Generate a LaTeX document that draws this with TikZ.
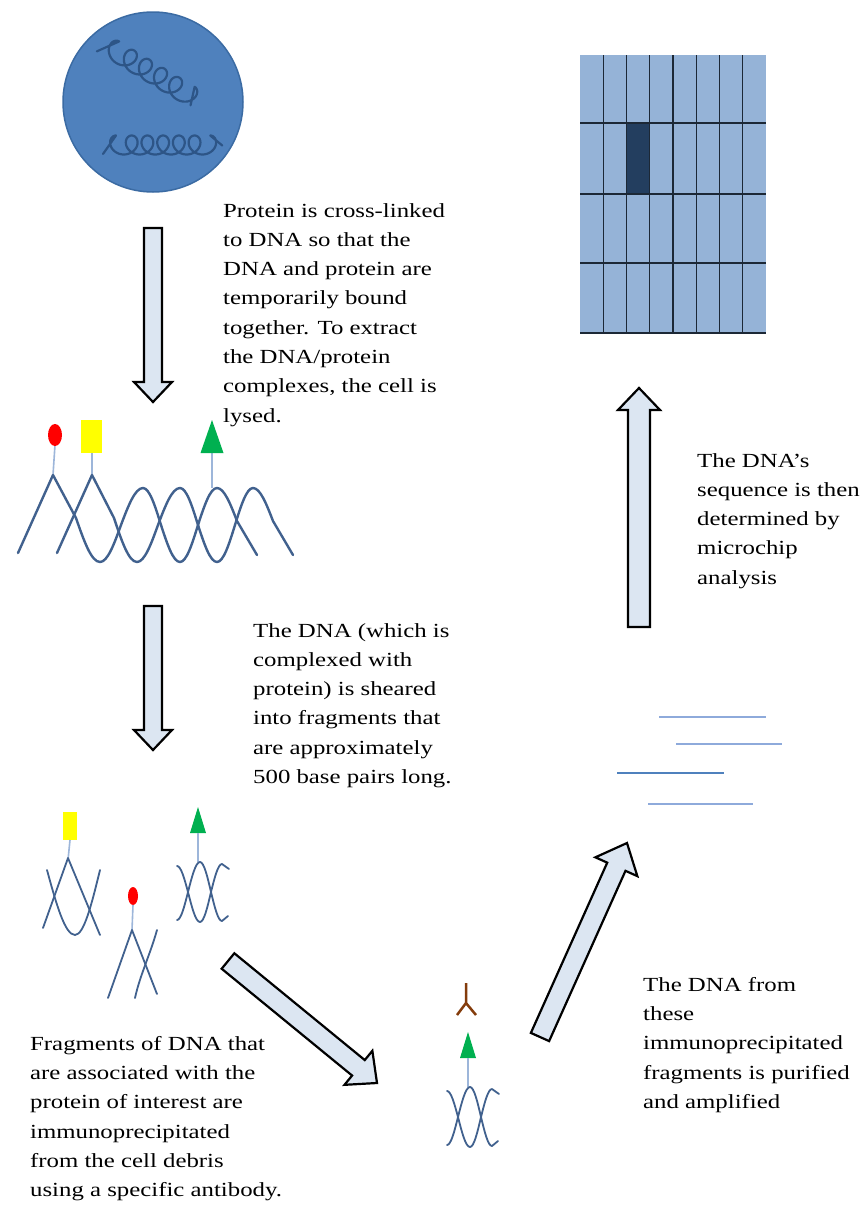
\documentclass[tikz,border=0pt]{standalone}
\usepackage{fontspec}
\setmainfont{Liberation Serif}[FakeStretch=1.24]
\usetikzlibrary{calc,shapes.geometric}
\definecolor{cellblue}{HTML}{4F81BD}
\definecolor{cellrim}{HTML}{3B6BA3}
\definecolor{coilblue}{HTML}{2D5587}
\definecolor{strandblue}{HTML}{41618E}
\definecolor{stickblue}{HTML}{9DB6DA}
\definecolor{arrowfill}{HTML}{DCE6F2}
\definecolor{chipblue}{HTML}{95B3D7}
\definecolor{chipdark}{HTML}{233E5F}
\definecolor{chipline}{HTML}{1C2836}
\definecolor{abbrown}{HTML}{843C0C}
\definecolor{tagred}{HTML}{FF0000}
\definecolor{tagyellow}{HTML}{FFFF00}
\definecolor{taggreen}{HTML}{00B050}
\definecolor{ampline}{HTML}{8EAADB}
\definecolor{ampdark}{HTML}{4F81BD}
\tikzset{
    strand/.style={strandblue, line width=2.4pt, line cap=round, line join=round}, % DNA strands
    stick/.style={stickblue, line width=1.6pt},
    coil/.style={coilblue, line width=2.2pt, line cap=round, line join=round},
    blockarrow/.style={fill=arrowfill, draw=black, line width=2.2pt, line join=miter},
    chipgrid/.style={chipline, line width=1.4pt},
    ampli/.style={ampline, line width=1.5pt},
    steptext/.style={anchor=north west, inner sep=0pt, align=left, font=\fontsize{20}{29.3}\selectfont}
}
% block arrow: #1 tail, #2 tip, #3 half shaft, #4 half head, #5 head length
\newcommand{\blockarrow}[5]{%
    \coordinate (#1-#2) at ($(#2)!#5!(#1)$);
    \draw[blockarrow] ($(#1)!#3!90:(#2)$) -- ($(#1-#2)!#3!90:(#2)$) -- ($(#1-#2)!#4!90:(#2)$) -- (#2)
        -- ($(#1-#2)!#4!-90:(#2)$) -- ($(#1-#2)!#3!-90:(#2)$) -- ($(#1)!#3!-90:(#2)$) -- cycle;}

\begin{document}
\begin{tikzpicture}[x=1pt, y=-1pt]
    \useasboundingbox[fill=white] (0,0) rectangle (864,1205);

    % cell with chromatin
    \node[circle, fill=cellblue, draw=cellrim, line width=1.5pt, minimum size=180pt, inner sep=0pt] (cell) at (153,102) {};
    \begin{scope}[shift={(114,50)}, rotate=-31]
        \draw[coil] (-14,10) -- plot[domain=0:31.4, samples=240, smooth] ({2.8*\x-10*sin(\x r)}, {-10*cos(\x r)}) -- ++(6,18);
    \end{scope}
    \begin{scope}[shift={(116,145)}]
        \draw[coil] (-13,9) -- plot[domain=0:37.7, samples=260, smooth] ({2.5*\x-9.5*sin(\x r)}, {-9.5*cos(\x r)}) -- ++(12,10);
    \end{scope}

    % cross-linked DNA with proteins
    \draw[stick] (55,445) -- (53,475);
    \draw[stick] (92,453) -- (92,475);
    \draw[stick] (212,453) -- (212,488);
    \node[ellipse, fill=tagred, minimum width=14pt, minimum height=22pt, inner sep=0pt] (pred) at (55,435) {};
    \fill[tagyellow] (81,420) rectangle (102,453);
    \fill[taggreen] (212,420) -- (223.5,453) -- (200.5,453) -- cycle;
    \draw[strand] (18,553) -- (53,475) -- (76,518) sin (100,562) cos (121,525) sin (143,488) cos (161,525) sin (180,562) cos (198,525) sin (217,488) cos (237,521) -- (257,555);
    \draw[strand] (57,553) -- (92,475) -- (114,518) sin (137,562) cos (158,525) sin (180,488) cos (198,525) sin (217,562) cos (235,525) sin (253,488) cos (273,521) -- (293,555);

    % sheared fragments
    \fill[tagyellow] (63,812) rectangle (77,840);
    \draw[stick] (70,840) -- (68,860);
    \draw[strand, line width=1.8pt] (43,928) -- (68,858) -- (100,935);
    \draw[strand, line width=1.8pt] (47,870) sin (75,935) cos (100,870);
    \node[ellipse, fill=tagred, minimum width=10pt, minimum height=18pt, inner sep=0pt] (fred) at (133,896) {};
    \draw[stick] (133,905) -- (132,930);
    \draw[strand, line width=1.8pt] (108,998) -- (132,930) -- (157,994);
    \draw[strand, line width=1.8pt] (157,930) .. controls (150,955) and (140,975) .. (135,998);
    \foreach \dx/\dy in {0/0,270/225} {
        \begin{scope}[shift={(\dx,\dy)}]
            \fill[taggreen] (198,807) -- (206,833) -- (190,833) -- cycle;
            \draw[stick] (198,833) -- (198,862);
            \draw[strand, line width=1.8pt] (177,866) cos (188,892) sin (200,922) cos (211,892) sin (222,864) -- (229,869);
            \draw[strand, line width=1.8pt] (177,920) cos (188,892) sin (200,862) cos (211,892) sin (222,921) -- (228,916);
        \end{scope}
    }

    % antibody
    \draw[abbrown, line width=2.5pt] (466,983) -- (466,1003) -- (457,1015) (466,1003) -- (476,1015);

    % amplified fragments
    \draw[ampli] (659,717) -- (766,717);
    \draw[ampli] (676,744) -- (782,744);
    \draw[ampdark, line width=2pt] (617,773) -- (724,773);
    \draw[ampli] (648,804) -- (753,804);

    % microchip
    \fill[chipblue] (580,55) rectangle (766,333);
    \fill[chipdark] (626.5,123) rectangle (649.75,194);
    \foreach \i in {1,...,7} {\draw[chipgrid] ({580+23.25*\i},55) -- ({580+23.25*\i},333);}
    \foreach \y in {123,194,263,333} {\draw[chipgrid] (580,\y) -- (766,\y);}

    % block arrows between steps
    \coordinate (a1s) at (153,228); \coordinate (a1e) at (153,402);
    \coordinate (a2s) at (153,606); \coordinate (a2e) at (153,750);
    \coordinate (a3s) at (228,961); \coordinate (a3e) at (377,1083);
    \coordinate (a4s) at (540,1037); \coordinate (a4e) at (627,843);
    \coordinate (a5s) at (639,627); \coordinate (a5e) at (639,388);
    \blockarrow{a1s}{a1e}{9pt}{19pt}{20pt}
    \blockarrow{a2s}{a2e}{9pt}{19pt}{20pt}
    \blockarrow{a3s}{a3e}{10pt}{22pt}{24pt}
    \blockarrow{a4s}{a4e}{10pt}{23pt}{26pt}
    \blockarrow{a5s}{a5e}{11pt}{21pt}{22pt}

    % step descriptions
    \node[steptext] (t1) at (223,203) {Protein is cross-linked\\to DNA so that the\\DNA and protein are\\temporarily bound\\together. To extract\\the DNA/protein\\complexes, the cell is\\lysed.};
    \node[steptext] (t2) at (253,623) {The DNA (which is\\complexed with\\protein) is sheared\\into fragments that\\are approximately\\500 base pairs long.};
    \node[steptext] (t3) at (697,453) {The DNA’s\\sequence is then\\determined by\\microchip\\analysis};
    \node[steptext] (t4) at (643,977) {The DNA from\\these\\immunoprecipitated\\fragments is purified\\and amplified};
    \node[steptext] (t5) at (30,1036) {Fragments of DNA that\\are associated with the\\protein of interest are\\immunoprecipitated\\from the cell debris\\using a specific antibody.};
\end{tikzpicture}
\end{document}
